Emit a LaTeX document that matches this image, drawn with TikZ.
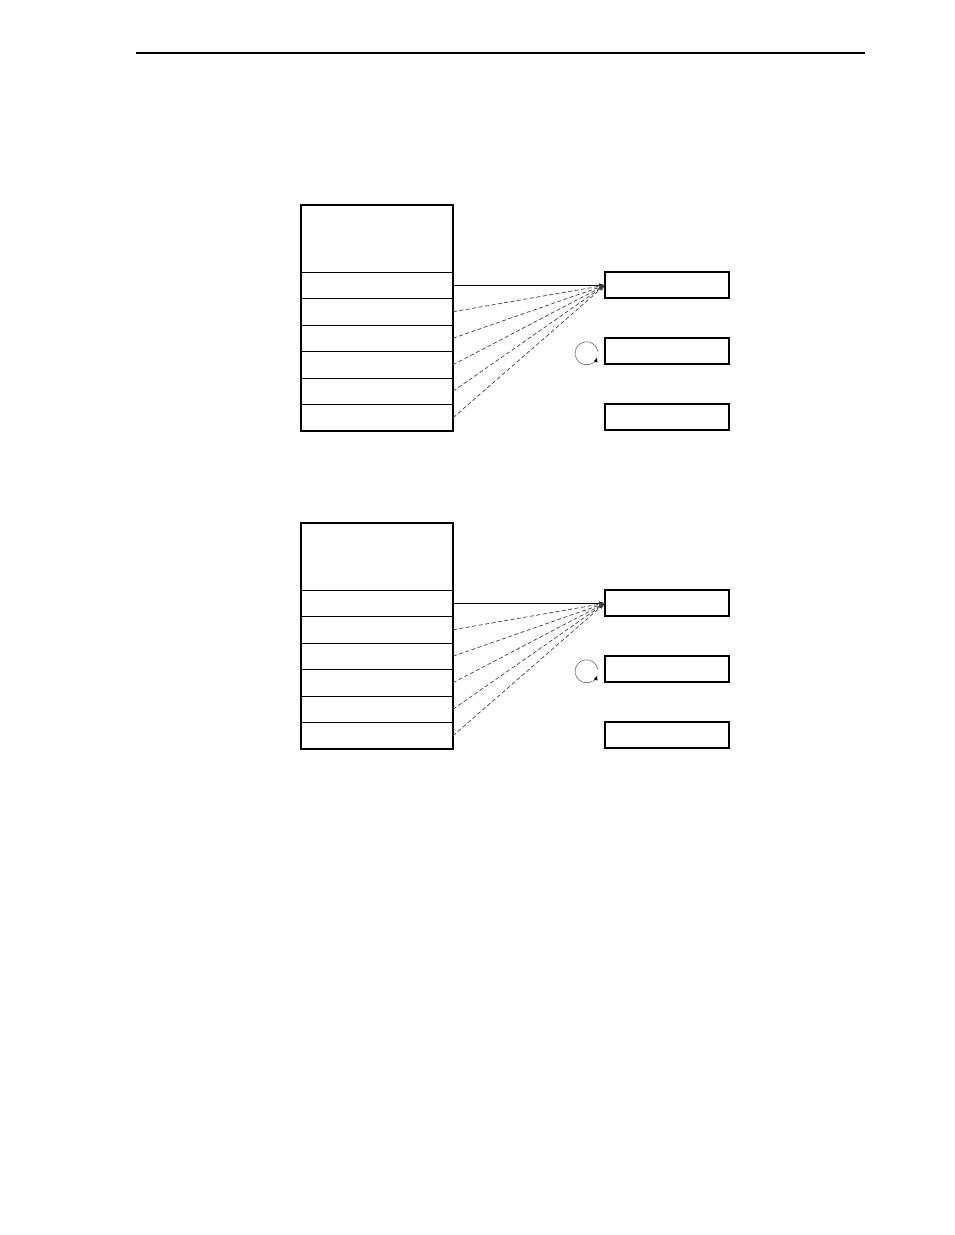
\documentclass[tikz,border=0pt]{standalone}
\usetikzlibrary{positioning}
\usetikzlibrary{arrows.meta}

\tikzset{
    cell/.style={draw, line width=0.8pt, minimum width=152pt, minimum height=26.5pt, inner sep=0pt, outer sep=0pt},
    headcell/.style={cell, minimum height=67pt},
    slot/.style={draw, line width=1.7pt, minimum width=124pt, minimum height=26pt, inner sep=0pt, outer sep=0pt},
    link/.style={-{Latex[length=6pt,width=4pt]}, line width=0.7pt},
    hint/.style={link, dash pattern=on 4pt off 2.5pt, black!75},
    spin/.style={-{Latex[length=5pt,width=4pt,black]}, line width=0.6pt, black!60}
}

\begin{document}
\begin{tikzpicture}
    \useasboundingbox (0,0) rectangle (954pt,-1235pt);

    % page rule
    \coordinate (ruleL) at (136pt,-53pt);
    \coordinate (ruleR) at (865pt,-53pt);
    \draw[line width=1.1pt] (ruleL) -- (ruleR);

    \foreach \d/\y/\w in {a/205/1.8pt, b/523/1.1pt}{
        % left stack
        \node (\d-head) [headcell, anchor=north west] at (301pt,-\y pt) {};
        \node (\d-r1) [cell, below=0pt of \d-head] {};
        \node (\d-r2) [cell, below=0pt of \d-r1]   {};
        \node (\d-r3) [cell, below=0pt of \d-r2]   {};
        \node (\d-r4) [cell, below=0pt of \d-r3]   {};
        \node (\d-r5) [cell, below=0pt of \d-r4]   {};
        \node (\d-r6) [cell, below=0pt of \d-r5]   {};
        \draw[line width=\w] (\d-head.north west) rectangle (\d-r6.south east);

        % right slots
        \node (\d-s1) [slot, right=152pt of \d-r1] {};
        \node (\d-s2) [slot, below=40pt of \d-s1]  {};
        \node (\d-s3) [slot, below=40pt of \d-s2]  {};

        % links
        \draw[link] (\d-r1.east) -- (\d-s1.west);
        \foreach \r in {2,...,6}
            \draw[hint] (\d-r\r.east) -- (\d-s1.west);

        % turn mark
        \coordinate (\d-spin) at ([xshift=-18.5pt,yshift=-2pt]\d-s2.west);
        \draw[spin] (\d-spin) ++(8:11.5pt) arc[start angle=8, end angle=340, radius=11.5pt];
    }
\end{tikzpicture}
\end{document}
